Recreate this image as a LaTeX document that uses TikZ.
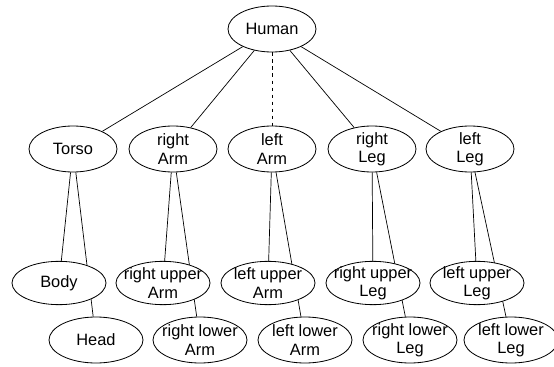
\documentclass[tikz,border=0pt]{standalone}
\usepackage{fontspec}
\setmainfont{Liberation Sans}
\usetikzlibrary{shapes.geometric,backgrounds}

\tikzset{
  part/.style={ellipse,draw,line width=0.7pt,fill=white,inner sep=0pt,
    minimum width=2.64cm,minimum height=1.38cm},
  wide/.style={minimum width=2.82cm},
  partname/.style={font=\fontsize{14}{15.5}\selectfont,align=center,inner sep=0pt},
  link/.style={line width=0.6pt}
}

\begin{document}
\begin{tikzpicture}[x=0.03cm,y=-0.03cm]
\useasboundingbox (0,0) rectangle (554,367);

% root
\node[part,label={[partname]center:Human}] (Human) at (272,29) {};

% body parts
\node[part,label={[partname]center:Torso}] (Torso) at (73,149) {};
\node[part,label={[partname]center:right\\Arm}] (rArm) at (173,149) {};
\node[part,label={[partname]center:left\\Arm}] (lArm) at (272,149) {};
\node[part,label={[partname]center:right\\Leg}] (rLeg) at (372,149) {};
\node[part,label={[partname]center:left\\Leg}] (lLeg) at (470,149) {};

% upper pieces
\node[part,wide,minimum height=1.3cm,label={[partname]center:Body}] (Body) at (59,283) {};
\node[part,wide,minimum height=1.3cm,label={[partname]center:right upper\\Arm}] (rUArm) at (163,283) {};
\node[part,wide,minimum height=1.3cm,label={[partname]center:left upper\\Arm}] (lUArm) at (268,283) {};
\node[part,wide,minimum height=1.3cm,label={[partname]center:right upper\\Leg}] (rULeg) at (373,283) {};
\node[part,wide,minimum height=1.3cm,label={[partname]center:left upper\\Leg}] (lULeg) at (477,283) {};

% lower pieces
\node[part,wide,label={[partname]center:Head}] (Head) at (96,340) {};
\node[part,wide,label={[partname]center:right lower\\Arm}] (rLArm) at (200,340) {};
\node[part,wide,label={[partname]center:left lower\\Arm}] (lLArm) at (305,340) {};
\node[part,wide,label={[partname]center:right lower\\Leg}] (rLLeg) at (410,340) {};
\node[part,wide,label={[partname]center:left lower\\Leg}] (lLLeg) at (511,340) {};

% links, behind the ellipses
\begin{scope}[on background layer]
\draw[link] (Human) -- (Torso);
\draw[link] (Human) -- (rArm);
\draw[link,dashed] (Human) -- (lArm);
\draw[link] (Human) -- (rLeg);
\draw[link] (Human) -- (lLeg);
\draw[link] (Torso) -- (Body);
\draw[link] (Torso) -- (Head);
\draw[link] (rArm) -- (rUArm);
\draw[link] (rArm) -- (rLArm);
\draw[link] (lArm) -- (lUArm);
\draw[link] (lArm) -- (lLArm);
\draw[link] (rLeg) -- (rULeg);
\draw[link] (rLeg) -- (rLLeg);
\draw[link] (lLeg) -- (lULeg);
\draw[link] (lLeg) -- (lLLeg);
\end{scope}
\end{tikzpicture}
\end{document}
